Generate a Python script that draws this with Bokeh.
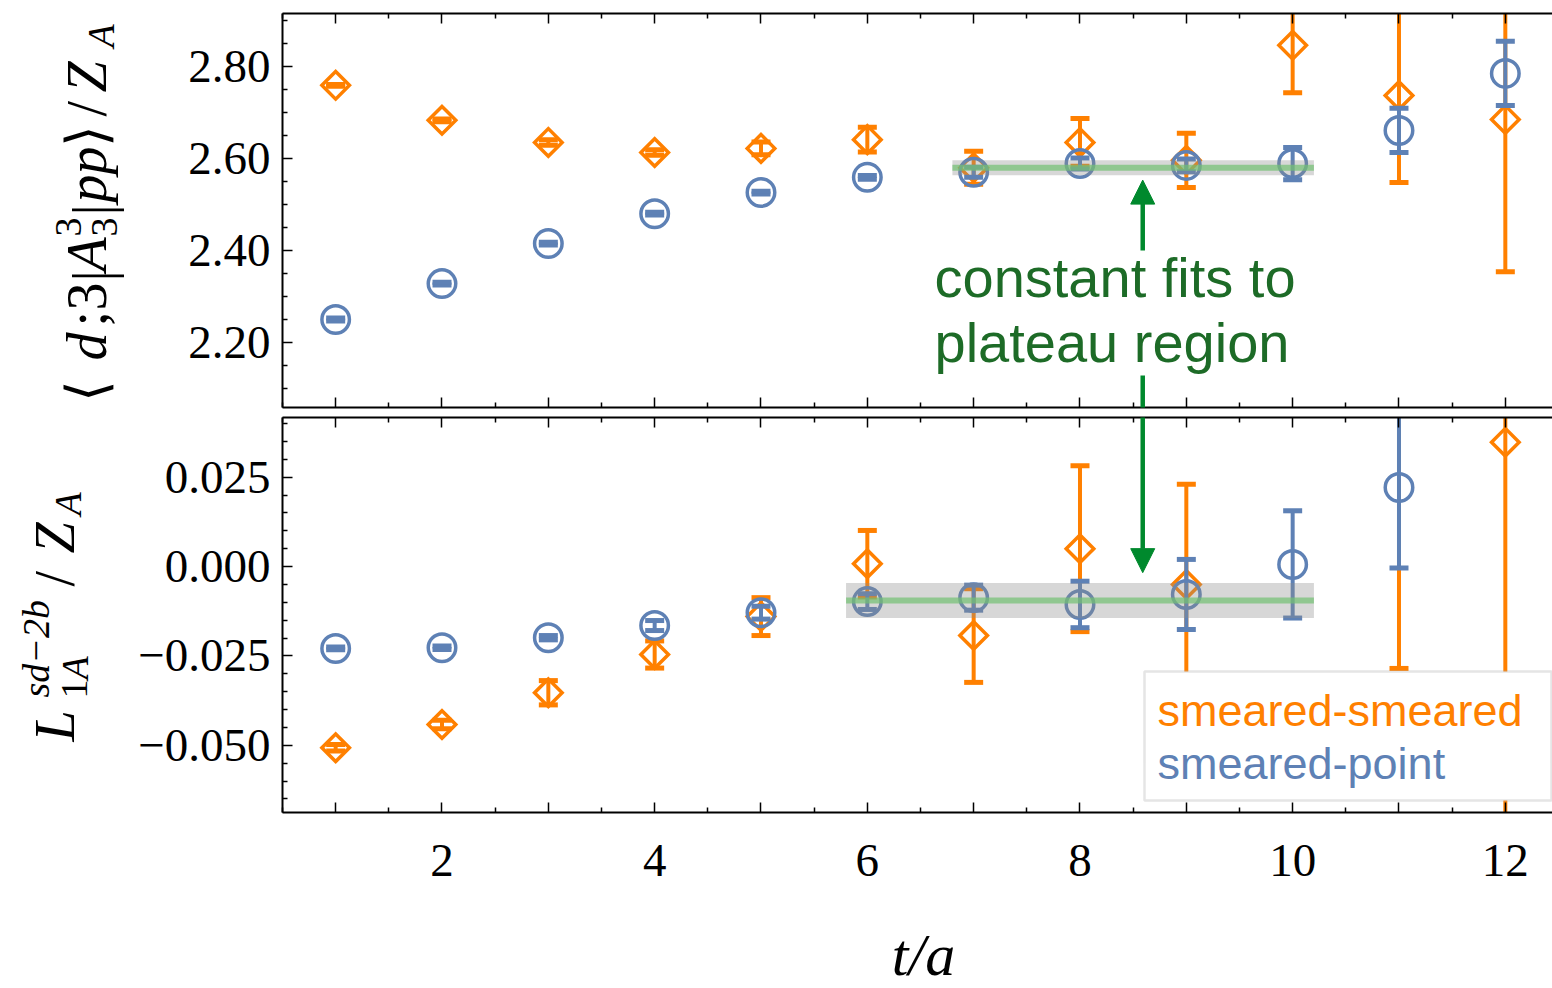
import math
from bokeh.plotting import figure
from bokeh.layouts import column, row
from bokeh.models import (Range1d, FixedTicker, LinearAxis, CustomJSTickFormatter,
                          NumeralTickFormatter, Label, BoxAnnotation, Arrow, NormalHead)
from bokeh.embed import file_html
from bokeh.resources import INLINE

nan = float("nan")

# ---------------- data ----------------
t_slices = [1, 2, 3, 4, 5, 6, 7, 8, 9, 10, 11, 12]

# upper panel  <d;3|A_3^3|pp>/Z_A
me_ss = [2.759, 2.683, 2.635, 2.613, 2.622, 2.641, 2.580, 2.635, 2.596, 2.846, 2.737, 2.685]
me_ss_err = [0.002, 0.003, 0.006, 0.006, 0.014, 0.027, 0.036, 0.052, 0.059, 0.103, 0.189, 0.331]
me_sp = [2.250, 2.328, 2.415, 2.480, 2.526, 2.559, 2.570, 2.589, 2.585, 2.589, 2.661, 2.785]
me_sp_err = [0.003, 0.003, 0.003, 0.003, 0.003, 0.004, 0.011, 0.012, 0.014, 0.035, 0.048, 0.070]

# lower panel  L_1A^{sd-2b}/Z_A
l_ss = [-0.0507, -0.0442, -0.0353, -0.0246, -0.0140, 0.0008, -0.0193, 0.0050, -0.0050, nan, 0.0500, 0.0348]
l_ss_err = [0.0009, 0.0012, 0.0034, 0.0038, 0.0053, 0.0093, 0.0131, 0.0232, 0.0280, nan, 0.0785, 0.1100]
l_sp = [-0.0229, -0.0227, -0.0199, -0.0165, -0.0129, -0.0098, -0.0087, -0.0106, -0.0078, 0.0006, 0.0221, nan]
l_sp_err = [0.0004, 0.0005, 0.0006, 0.0014, 0.0018, 0.0022, 0.0035, 0.0065, 0.0098, 0.0150, 0.0225, nan]

# constant fits
fit_top_range = [6.8, 10.2]
fit_top_val = 2.580
fit_top_err = 0.0163
fit_bot_range = [5.8, 10.2]
fit_bot_val = -0.0095
fit_bot_err = 0.0049

x_major = [1, 2, 3, 4, 5, 6, 7, 8, 9, 10, 11, 12]
x_minor = [0.5, 1.5, 2.5, 3.5, 4.5, 5.5, 6.5, 7.5, 8.5, 9.5, 10.5, 11.5, 12.5]
top_major = [2.2, 2.4, 2.6, 2.8]
top_minor = [2.05, 2.1, 2.15, 2.25, 2.3, 2.35, 2.45, 2.5, 2.55, 2.65, 2.7, 2.75, 2.85, 2.9]
bot_major = [-0.05, -0.025, 0.0, 0.025]
bot_minor = [-0.065, -0.06, -0.055, -0.045, -0.04, -0.035, -0.03, -0.02, -0.015, -0.01,
             -0.005, 0.005, 0.01, 0.015, 0.02, 0.03, 0.035, 0.04]

legend_labels = ["smeared-smeared", "smeared-point"]
annotation_lines = ["constant fits to", "plateau region"]
x_title = "t/a"

# ---------------- style ----------------
ORANGE = "#ff8000"
BLUE = "#5e81b5"
ARROW_GREEN = "#00892d"
TEXT_GREEN = "#1d6b27"
SERIF = "Liberation Serif"
SANS = "Liberation Sans"

TOTAL_H = 987
LEFT_W = 135
MAIN_W = 1552 - LEFT_W
FRAME_PX_LEFT = 280
MAIN_BORDER_LEFT = FRAME_PX_LEFT - LEFT_W
X_END = 0.5 + (1552 - FRAME_PX_LEFT) / 106.5
ARROW_T = 8.59
BASE_SHIFT = 0.33   # label anchor -> alphabetic baseline correction (in em)

TOP_H = 412
BOT_H = 492
STRIP_H = TOTAL_H - TOP_H - BOT_H
TOP_FRAME_BOTTOM = 407
BOT_FRAME_BOTTOM = 812


def style_axis(ax, ticker, formatter=None, labels=True, standoff=12):
    ax.ticker = ticker
    ax.axis_line_color = "black"
    ax.axis_line_width = 2
    ax.major_tick_in = 10
    ax.major_tick_out = 0
    ax.minor_tick_in = 5
    ax.minor_tick_out = 0
    ax.major_tick_line_color = "black"
    ax.minor_tick_line_color = "black"
    ax.major_tick_line_width = 1.5
    ax.minor_tick_line_width = 1.5
    if labels:
        if formatter is not None:
            ax.formatter = formatter
        ax.major_label_text_font = SERIF
        ax.major_label_text_font_size = "47px"
        ax.major_label_text_color = "black"
        ax.major_label_standoff = standoff
    else:
        ax.formatter = CustomJSTickFormatter(code="return '';")
        ax.major_label_text_font_size = "1px"
        ax.major_label_standoff = 0


def make_fig(height, y0, y1, b_top, b_bottom):
    p = figure(width=MAIN_W, height=height, x_range=Range1d(0.5, X_END), y_range=Range1d(y0, y1),
               output_backend="svg", toolbar_location=None,
               min_border_left=MAIN_BORDER_LEFT, min_border_right=0,
               min_border_top=b_top, min_border_bottom=b_bottom,
               outline_line_color=None, background_fill_color="white",
               border_fill_color="white")
    p.grid.visible = False
    return p


def blank_fig(width, height):
    p = figure(width=width, height=height, x_range=Range1d(0, 1), y_range=Range1d(0, 1),
               output_backend="svg", toolbar_location=None, min_border=0,
               x_axis_location=None, y_axis_location=None, outline_line_color=None,
               background_fill_color="white", border_fill_color="white")
    p.grid.visible = False
    return p


def draw_series(p, x, y, err, color, kind):
    lo = [yi - ei for yi, ei in zip(y, err)]
    hi = [yi + ei for yi, ei in zip(y, err)]
    p.segment(x0=x, y0=lo, x1=x, y1=hi, line_color=color, line_width=4)
    p.scatter(x, lo, marker="dash", size=19, line_width=5, line_color=color)
    p.scatter(x, hi, marker="dash", size=19, line_width=5, line_color=color)
    if kind == "diamond":
        p.scatter(x, y, marker="square", angle=math.pi / 4, size=19.5, line_width=3.5,
                  line_color=color, fill_color=None, line_join="miter")
    else:
        p.scatter(x, y, marker="circle", size=27.5, line_width=3.5,
                  line_color=color, fill_color=None)


def draw_fit(p, rng, val, err):
    p.quad(left=rng[0], right=rng[1], bottom=val - err, top=val + err,
           fill_color="#8c8c8c", fill_alpha=0.35, line_color=None)
    p.segment(x0=rng[0], y0=val, x1=rng[1], y1=val, line_color="#72c172",
              line_width=6, line_alpha=0.7)


def flat_label(p, text, px, base_py, frame_bottom, size, color, font=SANS):
    # px, base_py: page position of the start of the text baseline
    p.add_layout(Label(x=px - FRAME_PX_LEFT, y=frame_bottom - base_py + BASE_SHIFT * size,
                       x_units="screen", y_units="screen", text=text,
                       text_font=font, text_font_size=f"{size}px",
                       text_color=color, text_baseline="alphabetic"))


# left strip holding the rotated y-axis titles
side = blank_fig(LEFT_W, TOTAL_H)


def rot_label(text, base_px, start_py, size, italic=True):
    # base_px: page x of the (rotated) baseline, start_py: page y where the text begins (bottom)
    side.add_layout(Label(x=base_px - BASE_SHIFT * size, y=TOTAL_H - start_py,
                          x_units="screen", y_units="screen", text=text, angle=math.pi / 2,
                          text_font=SERIF, text_font_size=f"{size}px",
                          text_font_style="italic" if italic else "normal",
                          text_align="left", text_baseline="alphabetic", text_color="black"))


x_fmt = CustomJSTickFormatter(code="return (Math.round(tick) % 2 == 0) ? tick.toFixed(0) : '';")

# ---------------- top panel ----------------
top = make_fig(TOP_H, 2.0587, 2.9152, 13, 5)
top.add_layout(LinearAxis(), "above")
style_axis(top.yaxis[0], FixedTicker(ticks=top_major, minor_ticks=top_minor),
           NumeralTickFormatter(format="0.00"))
for ax in top.below + top.above:
    style_axis(ax, FixedTicker(ticks=x_major, minor_ticks=x_minor), labels=False)

draw_series(top, t_slices, me_ss, me_ss_err, ORANGE, "diamond")
draw_series(top, t_slices, me_sp, me_sp_err, BLUE, "circle")
draw_fit(top, fit_top_range, fit_top_val, fit_top_err)

top.add_layout(Arrow(end=NormalHead(size=24, fill_color=ARROW_GREEN, line_color=ARROW_GREEN),
                     x_start=ARROW_T, y_start=2.40, x_end=ARROW_T, y_end=2.553,
                     line_color=ARROW_GREEN, line_width=4.5))
top.add_layout(Arrow(end=None, x_start=ARROW_T, y_start=2.128, x_end=ARROW_T, y_end=2.03,
                     line_color=ARROW_GREEN, line_width=4.5))

for txt, base in zip(annotation_lines, [295, 360]):
    flat_label(top, txt, 932, base, TOP_FRAME_BOTTOM, 56, TEXT_GREEN)

# ---------------- bottom panel ----------------
bot = make_fig(BOT_H, -0.0688, 0.0417, 5, BOT_H - 400)
bot.add_layout(LinearAxis(), "above")
bot_fmt = CustomJSTickFormatter(code="return (tick < -1e-9 ? '\u2212' : '') + Math.abs(tick).toFixed(3);")
style_axis(bot.yaxis[0], FixedTicker(ticks=bot_major, minor_ticks=bot_minor), bot_fmt)
style_axis(bot.below[0], FixedTicker(ticks=x_major, minor_ticks=x_minor), x_fmt, labels=True, standoff=32)
style_axis(bot.above[0], FixedTicker(ticks=x_major, minor_ticks=x_minor), labels=False)

draw_series(bot, t_slices, l_ss, l_ss_err, ORANGE, "diamond")
draw_series(bot, t_slices, l_sp, l_sp_err, BLUE, "circle")
draw_fit(bot, fit_bot_range, fit_bot_val, fit_bot_err)

bot.add_layout(Arrow(end=NormalHead(size=24, fill_color=ARROW_GREEN, line_color=ARROW_GREEN),
                     x_start=ARROW_T, y_start=0.045, x_end=ARROW_T, y_end=-0.0017,
                     line_color=ARROW_GREEN, line_width=4.5))

# legend
bot.add_layout(BoxAnnotation(left=1142 - FRAME_PX_LEFT, right=1549 - FRAME_PX_LEFT,
                             top=BOT_FRAME_BOTTOM - 671, bottom=BOT_FRAME_BOTTOM - 800,
                             left_units="screen", right_units="screen",
                             top_units="screen", bottom_units="screen",
                             fill_color="white", fill_alpha=1.0,
                             line_color="#a9aaa9", line_width=2.5))
for txt, col, base in zip(legend_labels, [ORANGE, BLUE], [725, 778]):
    flat_label(bot, txt, 1155, base, BOT_FRAME_BOTTOM, 45, col)

# ---------------- x title strip (its frame is aligned with the panels above) ----------------
strip = blank_fig(MAIN_W, STRIP_H)
strip.add_layout(Label(x=921 - FRAME_PX_LEFT, y=TOTAL_H - 974 + BASE_SHIFT * 60,
                       x_units="screen", y_units="screen", text=x_title,
                       text_font=SERIF, text_font_size="60px", text_font_style="italic",
                       text_align="center", text_baseline="alphabetic", text_color="black"))

# ---------------- rotated y titles ----------------
# top:  <d;3|A_3^3|pp>/Z_A
TX0 = 105
rot_label("\u27e8", TX0, 401, 56, italic=False)
rot_label("d", TX0, 360, 56)
rot_label(";", TX0, 326, 56, italic=False)
rot_label("3", TX0, 310, 56, italic=False)
rot_label("|", TX0 + 6, 281, 56, italic=False)
rot_label("A", TX0, 271, 56)
rot_label("3", TX0 - 24, 236, 38, italic=False)
rot_label("3", TX0 + 12, 236, 38, italic=False)
rot_label("|", TX0 + 6, 215, 56, italic=False)
rot_label("pp", TX0, 202, 56)
rot_label("\u27e9", TX0, 146, 56, italic=False)
rot_label("/", TX0, 116, 56, italic=False)
rot_label("Z", TX0, 92, 56)
rot_label("A", TX0 + 8, 47, 38)

# bottom:  L_{1A}^{sd-2b}/Z_A
BX0 = 73
rot_label("L", BX0, 741, 56)
rot_label("sd\u22122b", BX0 - 25, 697, 38)
rot_label("1", BX0 + 14, 698, 38, italic=False)
rot_label("A", BX0 + 14, 679, 38)
rot_label("/", BX0, 586, 56, italic=False)
rot_label("Z", BX0, 553, 56)
rot_label("A", BX0 + 7, 515, 38)

layout = row(side, column(top, bot, strip, spacing=0), spacing=0)
open("out.html", "w").write(file_html(layout, INLINE))
